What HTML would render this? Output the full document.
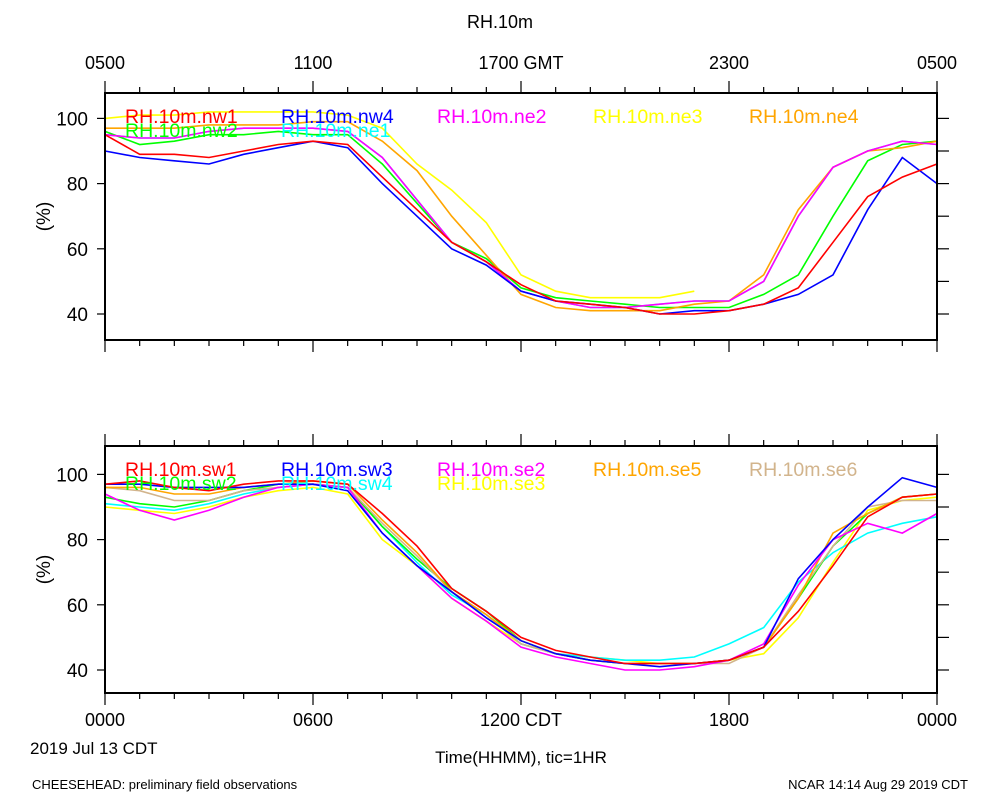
<!DOCTYPE html>
<html><head><meta charset="utf-8"><style>
body{margin:0;background:#fff}
svg{font-family:"Liberation Sans",sans-serif}
</style></head><body>
<svg id="c" width="1000" height="800" viewBox="0 0 1000 800">
<text x="500" y="28" font-size="18" text-anchor="middle">RH.10m</text>
<text x="30" y="754" font-size="17">2019 Jul 13 CDT</text>
<text x="521" y="763" font-size="17" text-anchor="middle">Time(HHMM), tic=1HR</text>
<text x="32" y="789" font-size="13">CHEESEHEAD: preliminary field observations</text>
<text x="968" y="789" font-size="13" text-anchor="end">NCAR 14:14 Aug 29 2019 CDT</text>
</svg>
<script>
const hours=[0,1,2,3,4,5,6,7,8,9,10,11,12,13,14,15,16,17,18,19,20,21,22,23,24];
const yTicks=[40,60,80,100];
const topTickLabels=["0500","1100","1700 GMT","2300","0500"];
const botTickLabels=["0000","0600","1200 CDT","1800","0000"];
const topNames=["RH.10m.nw1","RH.10m.nw4","RH.10m.ne2","RH.10m.ne3","RH.10m.ne4","RH.10m.nw2","RH.10m.ne1"];
const topColors=["#ff0000","#0000ff","#ff00ff","#ffff00","#ffa500","#00ff00","#00ffff"];
const nw1=[95,89,89,88,90,92,93,92,82,72,62,56,49,44,43,42,40,40,41,43,48,62,76,82,86];
const nw4=[90,88,87,86,89,91,93,91,80,70,60,55,47,44,43,42,40,41,41,43,46,52,72,88,80];
const ne2=[95,94,94,96,97,97,97,96,88,75,62,56,47,44,42,42,43,44,44,50,70,85,90,93,92];
const ne3=[100,101,101,102,102,102,102,101,97,86,78,68,52,47,45,45,45,47,null,null,null,null,null,null,null];
const ne4=[97,97,97,98,98,98,99,99,93,84,70,58,46,42,41,41,41,43,44,52,72,85,90,91,93];
const nw2=[96,92,93,95,95,96,95,95,86,74,62,57,48,45,44,43,42,42,42,46,52,70,87,92,93];
const ne1=[95,94,94,96,97,97,97,96,88,75,62,56,47,44,42,42,43,44,44,50,70,85,90,93,92];
const topSeries=[nw1,nw4,ne2,ne3,ne4,nw2,ne1];
const botNames=["RH.10m.sw1","RH.10m.sw3","RH.10m.se2","RH.10m.se5","RH.10m.se6","RH.10m.sw2","RH.10m.sw4","RH.10m.se3"];
const botColors=["#ff0000","#0000ff","#ff00ff","#ffa500","#d2b48c","#00ff00","#00ffff","#ffff00"];
const sw1=[97,98,96,95,97,98,98,97,88,78,65,58,50,46,44,42,42,42,43,47,58,72,87,93,94];
const sw3=[97,97,96,96,96,97,97,95,82,72,64,56,49,45,43,42,41,42,43,47,68,80,90,99,96];
const se2=[94,89,86,89,93,96,97,96,82,72,62,55,47,44,42,40,40,41,43,48,66,80,85,82,88];
const se5=[96,96,94,94,96,97,98,97,86,76,64,57,49,45,43,42,42,42,43,47,62,82,88,93,94];
const se6=[96,95,92,92,95,96,97,96,85,75,64,57,48,45,43,42,42,42,42,47,63,78,90,92,92];
const sw2=[93,91,90,92,95,97,97,96,84,74,65,58,49,45,43,42,42,42,43,47,62,78,88,93,94];
const sw4=[91,90,89,91,94,96,97,96,84,73,63,57,48,45,44,43,43,44,48,53,67,76,82,85,87];
const se3=[90,89,88,90,93,95,96,94,80,72,62,55,48,45,44,43,42,42,43,45,56,73,89,92,93];
const botSeries=[sw1,sw3,se2,se5,se6,sw2,sw4,se3];
const legPos=[[125,0],[281,0],[437,0],[593,0],[749,0],[125,1],[281,1],[437,1]];

const svg=document.getElementById('c');
const NS='http://www.w3.org/2000/svg';
function mk(t,a){const e=document.createElementNS(NS,t);for(const k in a)e.setAttribute(k,a[k]);svg.appendChild(e);return e;}
const X0=105,X1=937;
function xs(h){return X0+(X1-X0)*h/24;}

function panel(top,bot,v40,series,names,colors,tickLabels,labY,pname){
  const sc=v=>v40-(v-40)*3.26;
  for(let i=series.length-1;i>=0;i--){
    const s=series[i];
    let d='';let pen=false;
    s.forEach((v,j)=>{if(v==null){pen=false;return;}d+=(pen?'L':'M')+xs(hours[j]).toFixed(1)+','+sc(v).toFixed(1);pen=true;});
    const p=mk('path',{d:d,fill:'none',stroke:colors[i],'stroke-width':1.6});
    
    
  }
  names.forEach((n,i)=>{
    const t=mk('text',{x:legPos[i][0],y:top+30+legPos[i][1]*14,'font-size':19.5,fill:colors[i]});
    t.textContent=n;
    
    
  });
  const r=mk('rect',{x:X0,y:top,width:X1-X0,height:bot-top,fill:'none',stroke:'#000','stroke-width':2});
  
  
  hours.forEach(h=>{
    const L=h%6==0?12:6;const x=xs(h);
    mk('line',{x1:x,y1:top,x2:x,y2:top-L,stroke:'#000','stroke-width':1.2});
    mk('line',{x1:x,y1:bot,x2:x,y2:bot+L,stroke:'#000','stroke-width':1.2});
  });
  for(let v=40;v<=100;v+=10){
    const y=sc(v);
    mk('line',{x1:X1,y1:y,x2:X1+12,y2:y,stroke:'#000','stroke-width':1.2});
    if(v%20==0) mk('line',{x1:X0,y1:y,x2:X0-8,y2:y,stroke:'#000','stroke-width':1.2});
  }
  yTicks.forEach(v=>{
    const t=mk('text',{x:88,y:sc(v)+7,'font-size':19,'text-anchor':'end'});
    t.textContent=v;
    
    
  });
  const yl=mk('text',{x:50,y:(top+bot)/2,'font-size':19,'text-anchor':'middle',transform:`rotate(-90 50 ${(top+bot)/2})`});
  yl.textContent='(%)';
  
  
  tickLabels.forEach((l,i)=>{
    const t=mk('text',{x:xs(i*6),y:labY,'font-size':18,'text-anchor':'middle'});
    t.textContent=l;
    
    
  });
}
panel(93,340,314,topSeries,topNames,topColors,topTickLabels,69,'top-panel');
panel(446,693,670,botSeries,botNames,botColors,botTickLabels,726,'bottom-panel');
</script>
</body></html>
